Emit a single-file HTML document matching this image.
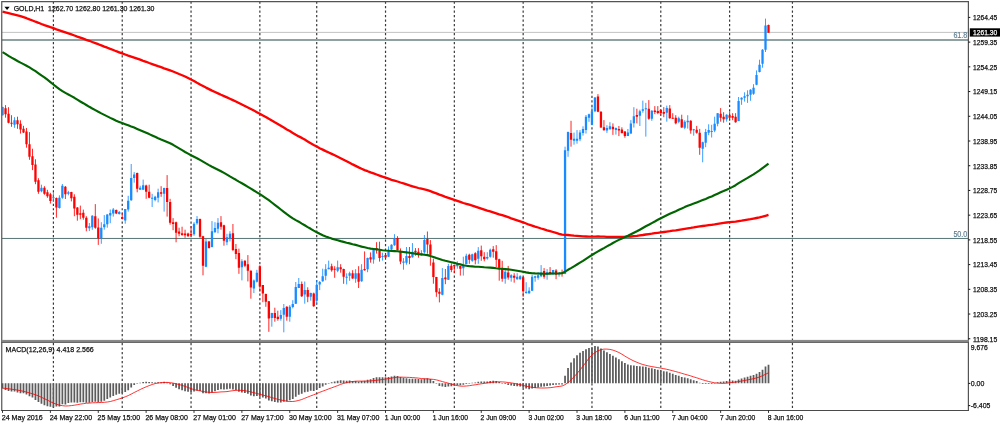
<!DOCTYPE html>
<html lang="en"><head><meta charset="utf-8"><title>GOLD,H1</title>
<style>html,body{margin:0;padding:0;background:#fff;overflow:hidden}svg{display:block}</style>
</head><body>
<svg width="1000" height="426" viewBox="0 0 1000 426" font-family="Liberation Sans, sans-serif">
<rect width="1000" height="426" fill="#fff"/>
<line x1="53.41" y1="1.45" x2="53.41" y2="410" stroke="#000" stroke-opacity="0.78" stroke-width="1.2" stroke-dasharray="2.24 2.253"/>
<line x1="122.23" y1="1.45" x2="122.23" y2="410" stroke="#000" stroke-opacity="0.78" stroke-width="1.2" stroke-dasharray="2.24 2.253"/>
<line x1="191.05" y1="1.45" x2="191.05" y2="410" stroke="#000" stroke-opacity="0.78" stroke-width="1.2" stroke-dasharray="2.24 2.253"/>
<line x1="259.86" y1="1.45" x2="259.86" y2="410" stroke="#000" stroke-opacity="0.78" stroke-width="1.2" stroke-dasharray="2.24 2.253"/>
<line x1="316.71" y1="1.45" x2="316.71" y2="410" stroke="#000" stroke-opacity="0.78" stroke-width="1.2" stroke-dasharray="2.24 2.253"/>
<line x1="385.53" y1="1.45" x2="385.53" y2="410" stroke="#000" stroke-opacity="0.78" stroke-width="1.2" stroke-dasharray="2.24 2.253"/>
<line x1="454.34" y1="1.45" x2="454.34" y2="410" stroke="#000" stroke-opacity="0.78" stroke-width="1.2" stroke-dasharray="2.24 2.253"/>
<line x1="523.16" y1="1.45" x2="523.16" y2="410" stroke="#000" stroke-opacity="0.78" stroke-width="1.2" stroke-dasharray="2.24 2.253"/>
<line x1="591.97" y1="1.45" x2="591.97" y2="410" stroke="#000" stroke-opacity="0.78" stroke-width="1.2" stroke-dasharray="2.24 2.253"/>
<line x1="660.79" y1="1.45" x2="660.79" y2="410" stroke="#000" stroke-opacity="0.78" stroke-width="1.2" stroke-dasharray="2.24 2.253"/>
<line x1="729.61" y1="1.45" x2="729.61" y2="410" stroke="#000" stroke-opacity="0.78" stroke-width="1.2" stroke-dasharray="2.24 2.253"/>
<line x1="792.44" y1="1.45" x2="792.44" y2="410" stroke="#000" stroke-opacity="0.78" stroke-width="1.2" stroke-dasharray="2.24 2.253"/>
<line x1="2" y1="32.4" x2="968" y2="32.4" stroke="#b4b4b4" stroke-width=".8"/>
<rect x="2" y="39" width="966" height="2" fill="#8fa1a0"/>
<rect x="2" y="237.95" width="966" height="1" fill="#587676"/>
<clipPath id="cc"><rect x="2.3" y="2" width="966" height="338"/></clipPath><g clip-path="url(#cc)">
<path d="M5.54 105.1V117.7M8.53 107.2V123.3M11.53 115.2V126.8M17.51 116.7V128.8M20.50 120.3V133.6M23.49 125.8V133.1M26.49 128.0V147.7M29.48 132.1V159.8M32.47 148.7V170.1M35.46 159.3V184.2M38.45 178.2V193.8M44.44 186.2V194.8M47.43 189.8V197.8M50.42 192.8V203.6M56.41 197.5V217.7M65.38 186.0V199.0M71.37 191.8V201.4M74.36 194.3V216.2M77.35 207.1V220.7M80.34 205.6V219.2M83.33 209.6V219.7M86.33 216.2V231.3M95.30 204.1V228.8M98.29 218.4V244.9M116.25 209.5V214.1M122.23 212.6V219.1M137.19 172.6V192.3M146.17 184.7V198.8M149.16 184.7V198.3M161.13 186.2V196.8M167.11 175.1V216.6M170.10 198.8V224.7M173.09 218.1V230.2M176.09 221.6V242.3M179.08 227.7V236.3M182.07 226.7V235.8M185.06 229.7V237.8M188.05 232.7V236.8M191.05 226.2V235.8M200.02 218.6V237.8M203.01 235.8V275.3M209.00 240.8V248.6M220.97 216.1V229.7M223.96 224.7V245.7M232.93 224.0V251.1M235.93 244.0V259.2M238.92 248.6V273.8M244.90 260.2V267.2M247.89 255.1V281.4M250.89 270.3V298.7M259.86 265.2V291.6M262.85 285.1V302.2M265.85 293.6V306.8M268.84 301.0V331.8M274.82 307.7V321.7M277.81 310.7V320.7M286.79 306.2V320.7M301.75 281.5V297.0M307.73 287.3V302.2M313.72 292.6V306.8M331.67 263.7V271.7M334.66 266.2V277.8M340.65 264.2V272.7M343.64 268.7V283.8M352.61 270.2V278.8M358.60 266.2V288.0M364.58 251.4V270.7M370.57 252.4V262.7M376.55 242.2V253.6M379.54 241.7V261.6M385.53 253.6V258.1M397.49 236.2V250.5M400.49 248.4V264.2M409.46 247.0V264.2M415.45 248.1V255.7M418.44 248.1V257.7M427.41 231.5V253.7M430.41 240.1V265.7M433.40 258.7V283.7M436.39 276.9V296.8M439.38 288.2V302.4M445.37 269.0V284.2M451.35 263.3V272.2M454.34 264.8V273.0M460.33 265.8V275.6M469.30 253.7V263.8M475.29 252.2V264.3M481.27 245.6V260.8M484.26 252.2V261.3M493.24 246.1V257.7M496.23 245.1V267.2M499.22 258.7V280.7M502.21 260.8V281.7M508.20 265.9V279.7M514.18 273.2V282.7M523.16 276.7V296.9M544.10 268.1V278.7M550.09 267.1V273.9M556.07 269.1V279.2M562.05 269.6V276.7M571.03 120.8V146.7M597.96 94.1V112.2M600.95 111.2V127.9M603.94 120.1V130.6M612.92 123.4V134.9M618.90 126.0V136.1M621.89 127.3V133.6M624.89 131.1V137.7M636.85 108.7V123.4M648.82 100.1V119.8M654.81 106.1V114.2M657.80 106.1V114.2M660.79 109.1V114.7M663.78 107.1V117.2M669.77 105.1V118.7M672.76 113.2V118.7M675.75 115.2V124.3M681.73 114.7V127.8M690.71 120.2V133.7M696.69 125.9V133.7M699.69 128.9V154.8M720.63 108.1V121.7M723.62 112.2V122.7M729.61 111.6V120.7M732.60 113.2V120.2M735.59 113.2V122.7M768.50 24.6V32.7" stroke="#ff0000" stroke-width=".85" fill="none"/>
<path d="M2.55 106.7V115.7M14.52 117.2V127.8M41.45 184.7V192.3M53.41 192.3V201.9M59.40 195.3V208.6M62.39 184.0V198.8M68.37 190.8V195.3M89.32 223.0V231.1M92.31 215.2V229.8M101.29 222.2V243.8M104.28 215.1V229.7M107.27 214.1V227.7M110.26 209.5V223.2M113.25 208.0V216.6M119.24 211.0V214.6M125.22 209.0V223.7M128.21 195.8V211.6M131.21 164.0V200.8M134.20 172.1V182.7M140.18 185.7V189.7M143.17 179.6V189.7M152.15 193.8V207.0M155.14 195.8V201.3M158.13 188.7V202.4M164.12 187.7V211.6M194.04 222.2V235.8M197.03 216.1V224.7M206.01 238.8V267.2M211.99 221.1V247.4M214.98 222.2V232.7M217.97 218.1V233.3M226.95 233.8V245.2M229.94 231.2V241.4M241.91 259.2V280.4M253.88 279.5V293.1M256.87 269.8V282.5M271.83 312.8V326.7M280.81 310.1V320.7M283.80 304.0V332.3M289.78 305.1V321.7M292.77 300.2V308.3M295.77 282.0V304.0M298.76 278.0V288.1M304.74 281.5V303.7M310.73 292.6V300.7M316.71 280.0V304.2M319.70 281.0V290.1M322.69 268.7V281.8M325.69 264.2V280.3M328.68 260.6V269.2M337.65 260.6V272.2M346.63 273.3V284.4M349.62 271.7V280.8M355.61 269.2V282.8M361.59 264.2V281.8M367.57 257.6V272.2M373.56 249.0V263.7M382.53 252.7V260.6M388.52 246.4V257.1M391.51 244.3V250.0M394.50 234.2V245.8M403.48 258.1V269.7M406.47 247.0V264.7M412.45 243.1V257.7M421.43 250.2V255.7M424.42 235.0V253.7M442.37 268.1V295.3M448.36 263.9V280.0M457.33 261.3V268.7M463.32 256.7V275.6M466.31 253.7V264.3M472.29 253.7V261.8M478.28 247.1V263.8M487.25 252.2V259.7M490.25 248.6V257.7M505.21 270.1V283.7M511.19 274.2V281.7M517.17 273.2V279.7M520.17 275.2V279.7M526.15 282.2V293.8M529.14 287.3V293.8M532.13 274.7V291.1M535.13 275.7V281.7M538.12 272.2V279.7M541.11 265.1V277.2M547.09 269.1V279.7M553.08 269.9V274.7M559.06 272.2V276.7M565.05 146.7V274.2M568.04 131.6V156.8M574.02 132.6V144.7M577.01 130.1V143.7M580.01 130.1V141.2M583.00 126.3V135.6M585.99 115.0V133.6M588.98 113.7V121.8M591.97 106.2V125.3M594.97 97.1V112.2M606.93 125.2V132.9M609.93 122.2V129.6M615.91 127.5V134.6M627.88 129.0V136.1M630.87 120.1V133.9M633.86 107.2V127.5M639.85 109.7V126.0M642.84 100.6V112.7M645.83 102.9V136.6M651.81 110.2V120.8M666.77 105.6V121.7M678.74 116.7V123.3M684.73 120.2V129.2M687.72 115.2V128.6M693.70 128.9V135.7M702.68 141.6V162.3M705.67 128.9V147.2M708.66 124.3V135.2M711.65 124.8V137.5M714.65 116.7V132.2M717.64 113.0V126.3M726.61 114.2V121.7M738.58 97.0V121.2M741.57 97.3V104.8M744.57 92.3V101.6M747.56 90.3V102.9M750.55 89.2V100.8M753.54 84.2V94.8M756.53 70.4V85.2M759.53 59.7V72.4M762.52 49.1V67.7M765.51 18.6V52.0" stroke="#178bff" stroke-width=".85" fill="none"/>
<path d="M5.54 108.2V114.2M8.53 113.7V122.8M11.53 122.8V123.8M17.51 120.3V124.3M20.50 123.8V129.5M23.49 128.8V132.6M26.49 131.6V144.2M29.48 144.2V156.8M32.47 156.3V165.0M35.46 164.4V181.7M38.45 180.2V191.8M44.44 187.7V193.8M47.43 192.3V196.3M50.42 194.3V201.0M56.41 198.0V207.6M65.38 186.7V194.3M71.37 192.1V198.3M74.36 196.8V208.6M77.35 207.6V214.7M80.34 213.2V214.7M83.33 212.7V217.7M86.33 217.7V227.8M95.30 216.2V227.8M98.29 227.5V238.3M116.25 210.0V213.6M122.23 216.9V218.9M137.19 173.1V188.7M146.17 185.4V191.8M149.16 191.8V197.8M161.13 192.3V193.8M167.11 188.0V201.9M170.10 201.9V222.7M173.09 222.2V224.0M176.09 222.2V232.7M179.08 231.4V233.8M182.07 233.3V235.1M185.06 233.5V235.3M188.05 233.6V236.3M191.05 233.8V235.3M200.02 219.1V236.8M203.01 236.3V265.7M209.00 241.5V248.1M220.97 222.2V226.7M223.96 225.2V240.8M232.93 233.3V250.1M235.93 249.1V254.1M238.92 253.1V267.7M244.90 260.7V265.7M247.89 264.2V270.8M250.89 270.8V287.6M259.86 266.2V286.6M262.85 285.1V293.6M265.85 293.9V301.7M268.84 301.2V318.6M274.82 313.0V318.0M277.81 316.7V319.0M286.79 306.7V316.7M301.75 284.1V296.2M307.73 289.9V296.7M313.72 293.6V306.3M331.67 266.2V270.2M334.66 268.7V269.7M340.65 267.2V269.2M343.64 269.0V276.8M352.61 273.3V278.5M358.60 273.3V281.8M364.58 269.0V270.2M370.57 257.3V259.6M376.55 248.0V250.0M379.54 250.8V258.1M385.53 255.1V257.6M397.49 238.0V250.0M400.49 251.0V261.6M409.46 256.1V258.1M415.45 250.7V252.2M418.44 251.7V253.7M427.41 239.1V244.6M430.41 244.6V254.7M433.40 262.6V277.1M436.39 277.1V292.3M439.38 291.8V293.8M445.37 277.6V279.2M451.35 265.7V270.0M454.34 265.1V266.4M460.33 266.1V268.7M469.30 254.7V259.7M475.29 253.2V260.3M481.27 250.2V256.2M484.26 256.7V259.2M493.24 249.2V251.7M496.23 251.2V259.7M499.22 259.2V267.7M502.21 268.4V278.7M508.20 272.5V277.6M514.18 275.7V277.7M523.16 277.2V291.3M544.10 271.1V276.7M550.09 272.0V273.7M556.07 270.6V274.7M562.05 272.7V273.7M571.03 132.9V139.7M597.96 96.6V111.7M600.95 111.7V127.5M603.94 127.3V130.2M612.92 126.7V129.2M618.90 129.1V130.6M621.89 129.6V133.1M624.89 131.6V136.1M636.85 115.0V116.8M648.82 108.7V118.8M654.81 110.6V112.0M657.80 111.1V113.0M660.79 110.1V113.2M663.78 112.0V113.7M669.77 108.6V118.2M672.76 117.7V118.7M675.75 117.7V123.3M681.73 119.2V127.6M690.71 120.7V130.6M696.69 129.8V132.8M699.69 132.7V147.7M720.63 113.7V117.7M723.62 116.7V119.2M729.61 115.2V117.7M732.60 116.0V117.7M735.59 116.7V122.2M768.50 25.1V32.7" stroke="#ff0000" stroke-width="2.3" fill="none"/>
<path d="M2.55 107.0V115.2M14.52 120.3V124.8M41.45 187.7V191.3M53.41 197.3V198.3M59.40 197.8V207.9M62.39 185.7V197.8M68.37 192.3V193.8M89.32 226.3V228.3M92.31 215.7V227.3M101.29 227.7V238.3M104.28 224.2V227.2M107.27 214.6V224.2M110.26 213.1V215.6M113.25 209.5V213.6M119.24 211.9V213.9M125.22 209.0V220.6M128.21 200.8V209.5M131.21 178.1V200.3M134.20 174.6V178.1M140.18 187.7V189.7M143.17 185.2V189.7M152.15 197.8V198.8M155.14 196.8V200.1M158.13 192.3V197.8M164.12 188.0V193.8M194.04 223.7V234.3M197.03 219.1V223.2M206.01 241.5V266.7M211.99 231.2V247.0M214.98 228.0V232.2M217.97 222.7V228.7M226.95 237.3V242.3M229.94 233.8V238.3M241.91 261.2V267.2M253.88 280.5V288.6M256.87 272.8V281.7M271.83 313.0V318.0M280.81 315.1V318.8M283.80 308.0V314.7M289.78 306.7V316.7M292.77 304.0V307.1M295.77 287.1V303.7M298.76 284.1V287.9M304.74 290.1V294.6M310.73 293.1V296.7M316.71 285.1V300.7M319.70 282.0V284.6M322.69 276.3V281.3M325.69 269.2V275.8M328.68 267.7V269.2M337.65 267.2V270.7M346.63 276.8V277.8M349.62 273.3V275.8M355.61 273.3V278.8M361.59 269.7V281.3M367.57 258.1V269.2M373.56 249.8V259.6M382.53 256.0V257.0M388.52 251.4V256.7M391.51 244.8V249.5M394.50 239.0V245.3M403.48 261.6V262.7M406.47 256.1V262.7M412.45 251.7V257.2M421.43 253.2V255.2M424.42 240.1V252.2M442.37 278.1V294.8M448.36 266.1V279.7M457.33 263.8V266.3M463.32 265.3V268.2M466.31 255.7V264.3M472.29 254.2V260.8M478.28 250.7V258.7M487.25 257.0V258.4M490.25 249.7V256.7M505.21 271.7V278.7M511.19 275.2V277.7M517.17 276.7V279.2M520.17 276.2V279.2M526.15 291.8V293.1M529.14 290.8V293.3M532.13 276.7V290.8M535.13 276.2V277.7M538.12 275.2V277.7M541.11 272.7V276.2M547.09 272.2V274.7M553.08 270.1V274.2M559.06 273.2V274.2M565.05 150.3V273.7M568.04 132.1V150.8M574.02 138.7V140.7M577.01 138.7V140.7M580.01 132.6V139.2M583.00 129.1V133.1M585.99 116.8V130.0M588.98 114.2V117.8M591.97 111.2V124.8M594.97 97.6V111.2M606.93 128.1V130.6M609.93 126.2V129.2M615.91 128.1V130.1M627.88 132.6V135.9M630.87 123.5V133.6M633.86 116.3V123.2M639.85 111.2V115.7M642.84 109.2V110.7M645.83 108.2V109.2M651.81 110.7V118.8M666.77 108.1V112.7M678.74 118.2V121.7M684.73 121.7V127.8M687.72 120.7V122.2M693.70 129.3V130.3M702.68 142.2V148.7M705.67 132.0V142.7M708.66 129.9V132.8M711.65 131.0V132.0M714.65 123.8V130.6M717.64 113.2V123.8M726.61 114.7V119.2M738.58 100.9V121.0M741.57 97.8V99.4M744.57 96.3V97.8M747.56 94.8V96.3M750.55 89.7V94.8M753.54 87.7V93.8M756.53 74.9V84.7M759.53 64.7V71.9M762.52 49.7V63.8M765.51 25.6V49.7" stroke="#178bff" stroke-width="2.3" fill="none"/>
</g>
<path d="M2.5 11.6 L5.5 12.4 L8.5 13.1 L11.5 13.9 L14.5 14.6 L17.5 15.4 L20.5 16.2 L23.5 17.2 L26.5 18.2 L29.5 19.4 L32.5 20.5 L35.5 21.7 L38.5 22.8 L41.4 24.0 L44.4 25.1 L47.4 26.1 L50.4 27.2 L53.4 28.2 L56.4 29.3 L59.4 30.3 L62.4 31.3 L65.4 32.3 L68.4 33.4 L71.4 34.4 L74.4 35.5 L77.3 36.6 L80.3 37.6 L83.3 38.7 L86.3 39.8 L89.3 40.8 L92.3 42.0 L95.3 43.1 L98.3 44.2 L101.3 45.4 L104.3 46.6 L107.3 47.7 L110.3 48.9 L113.3 50.0 L116.2 51.2 L119.2 52.3 L122.2 53.4 L125.2 54.5 L128.2 55.6 L131.2 56.6 L134.2 57.6 L137.2 58.6 L140.2 59.7 L143.2 60.8 L146.2 61.8 L149.2 63.0 L152.2 64.1 L155.1 65.1 L158.1 66.2 L161.1 67.2 L164.1 68.3 L167.1 69.3 L170.1 70.4 L173.1 71.5 L176.1 72.7 L179.1 74.0 L182.1 75.2 L185.1 76.5 L188.1 78.0 L191.0 79.5 L194.0 81.1 L197.0 82.8 L200.0 84.4 L203.0 86.0 L206.0 87.6 L209.0 89.1 L212.0 90.6 L215.0 92.0 L218.0 93.4 L221.0 94.8 L224.0 96.1 L227.0 97.4 L229.9 98.7 L232.9 100.1 L235.9 101.5 L238.9 103.0 L241.9 104.5 L244.9 106.0 L247.9 107.5 L250.9 109.0 L253.9 110.6 L256.9 112.2 L259.9 113.8 L262.9 115.4 L265.8 117.1 L268.8 118.8 L271.8 120.5 L274.8 122.3 L277.8 124.0 L280.8 125.8 L283.8 127.6 L286.8 129.4 L289.8 131.1 L292.8 132.9 L295.8 134.7 L298.8 136.4 L301.8 137.9 L304.7 139.6 L307.7 141.4 L310.7 143.2 L313.7 145.0 L316.7 146.6 L319.7 148.2 L322.7 149.6 L325.7 151.1 L328.7 152.5 L331.7 153.9 L334.7 155.3 L337.7 156.8 L340.6 158.2 L343.6 159.7 L346.6 161.2 L349.6 162.8 L352.6 164.4 L355.6 165.9 L358.6 167.4 L361.6 168.8 L364.6 170.1 L367.6 171.2 L370.6 172.4 L373.6 173.4 L376.6 174.5 L379.5 175.6 L382.5 176.7 L385.5 177.7 L388.5 178.7 L391.5 179.8 L394.5 180.6 L397.5 181.5 L400.5 182.5 L403.5 183.4 L406.5 184.4 L409.5 185.4 L412.5 186.3 L415.4 187.2 L418.4 188.0 L421.4 188.7 L424.4 189.4 L427.4 190.2 L430.4 191.2 L433.4 192.3 L436.4 193.4 L439.4 194.6 L442.4 195.7 L445.4 196.8 L448.4 197.8 L451.4 198.9 L454.3 199.9 L457.3 200.9 L460.3 201.9 L463.3 203.0 L466.3 203.8 L469.3 204.7 L472.3 205.6 L475.3 206.6 L478.3 207.6 L481.3 208.6 L484.3 209.6 L487.3 210.6 L490.2 211.4 L493.2 212.3 L496.2 213.3 L499.2 214.3 L502.2 215.2 L505.2 216.2 L508.2 217.2 L511.2 218.3 L514.2 219.3 L517.2 220.3 L520.2 221.3 L523.2 222.3 L526.1 223.5 L529.1 224.7 L532.1 225.6 L535.1 226.6 L538.1 227.5 L541.1 228.5 L544.1 229.4 L547.1 230.3 L550.1 231.1 L553.1 232.0 L556.1 232.9 L559.1 233.8 L562.1 234.6 L565.0 234.9 L568.0 235.0 L571.0 235.3 L574.0 235.6 L577.0 235.8 L580.0 236.1 L583.0 236.4 L586.0 236.5 L589.0 236.6 L592.0 236.7 L595.0 236.6 L598.0 236.5 L600.9 236.6 L603.9 236.7 L606.9 236.8 L609.9 236.8 L612.9 236.8 L615.9 236.8 L618.9 236.8 L621.9 236.8 L624.9 236.8 L627.9 236.7 L630.9 236.5 L633.9 236.1 L636.9 235.8 L639.8 235.4 L642.8 235.0 L645.8 234.5 L648.8 234.1 L651.8 233.7 L654.8 233.2 L657.8 232.8 L660.8 232.4 L663.8 232.0 L666.8 231.6 L669.8 231.2 L672.8 230.7 L675.8 230.3 L678.7 229.8 L681.7 229.3 L684.7 228.8 L687.7 228.3 L690.7 227.9 L693.7 227.4 L696.7 226.8 L699.7 226.4 L702.7 226.0 L705.7 225.6 L708.7 225.2 L711.7 224.8 L714.6 224.4 L717.6 223.9 L720.6 223.4 L723.6 222.9 L726.6 222.5 L729.6 222.2 L732.6 221.9 L735.6 221.6 L738.6 221.1 L741.6 220.7 L744.6 220.2 L747.6 219.7 L750.5 219.2 L753.5 218.6 L756.5 218.0 L759.5 217.4 L762.5 216.7 L765.5 215.8 L768.5 214.9" stroke="#ff0000" stroke-width="2.3" fill="none" stroke-linejoin="round" stroke-linecap="butt" />
<path d="M2.5 52.1 L5.5 53.9 L8.5 55.8 L11.5 57.6 L14.5 59.3 L17.5 61.0 L20.5 62.6 L23.5 64.1 L26.5 65.7 L29.5 67.4 L32.5 69.3 L35.5 71.2 L38.5 73.3 L41.4 75.4 L44.4 77.4 L47.4 79.7 L50.4 82.1 L53.4 84.5 L56.4 86.9 L59.4 89.1 L62.4 91.1 L65.4 92.9 L68.4 94.5 L71.4 96.1 L74.4 97.8 L77.3 99.6 L80.3 101.5 L83.3 103.2 L86.3 105.0 L89.3 106.8 L92.3 108.5 L95.3 110.1 L98.3 111.8 L101.3 113.4 L104.3 114.9 L107.3 116.4 L110.3 117.9 L113.3 119.3 L116.2 120.7 L119.2 121.9 L122.2 123.1 L125.2 124.2 L128.2 125.3 L131.2 126.5 L134.2 127.6 L137.2 128.9 L140.2 130.2 L143.2 131.5 L146.2 132.8 L149.2 134.1 L152.2 135.5 L155.1 136.8 L158.1 138.2 L161.1 139.5 L164.1 140.7 L167.1 142.0 L170.1 143.3 L173.1 144.8 L176.1 146.6 L179.1 148.4 L182.1 150.2 L185.1 152.0 L188.1 153.6 L191.0 155.2 L194.0 156.7 L197.0 158.2 L200.0 159.9 L203.0 161.6 L206.0 163.4 L209.0 165.1 L212.0 166.7 L215.0 168.2 L218.0 169.7 L221.0 171.3 L224.0 172.9 L227.0 174.6 L229.9 176.4 L232.9 178.1 L235.9 179.8 L238.9 181.6 L241.9 183.3 L244.9 185.0 L247.9 186.8 L250.9 188.6 L253.9 190.5 L256.9 192.3 L259.9 194.1 L262.9 196.1 L265.8 198.1 L268.8 200.2 L271.8 202.5 L274.8 204.8 L277.8 207.1 L280.8 209.5 L283.8 211.9 L286.8 214.2 L289.8 216.3 L292.8 218.4 L295.8 220.1 L298.8 221.7 L301.8 223.6 L304.7 225.3 L307.7 227.1 L310.7 228.8 L313.7 230.6 L316.7 232.2 L319.7 233.8 L322.7 235.2 L325.7 236.5 L328.7 237.6 L331.7 238.6 L334.7 239.5 L337.7 240.2 L340.6 241.1 L343.6 241.9 L346.6 242.7 L349.6 243.4 L352.6 244.2 L355.6 244.9 L358.6 245.7 L361.6 246.6 L364.6 247.3 L367.6 248.0 L370.6 248.6 L373.6 249.0 L376.6 249.4 L379.5 249.8 L382.5 250.2 L385.5 250.5 L388.5 250.7 L391.5 251.0 L394.5 251.1 L397.5 251.2 L400.5 251.6 L403.5 252.0 L406.5 252.4 L409.5 252.8 L412.5 253.2 L415.4 253.6 L418.4 254.1 L421.4 254.4 L424.4 254.7 L427.4 255.1 L430.4 255.9 L433.4 256.9 L436.4 258.0 L439.4 259.0 L442.4 260.0 L445.4 260.8 L448.4 261.5 L451.4 262.2 L454.3 262.9 L457.3 263.7 L460.3 264.4 L463.3 265.2 L466.3 265.7 L469.3 266.1 L472.3 266.4 L475.3 266.7 L478.3 266.8 L481.3 267.0 L484.3 267.3 L487.3 267.5 L490.2 267.6 L493.2 267.9 L496.2 268.3 L499.2 268.6 L502.2 268.8 L505.2 269.1 L508.2 269.4 L511.2 269.8 L514.2 270.3 L517.2 270.8 L520.2 271.3 L523.2 271.8 L526.1 272.4 L529.1 272.9 L532.1 273.2 L535.1 273.4 L538.1 273.5 L541.1 273.6 L544.1 273.7 L547.1 273.7 L550.1 273.6 L553.1 273.5 L556.1 273.5 L559.1 273.4 L562.1 273.2 L565.0 271.7 L568.0 269.8 L571.0 268.1 L574.0 266.3 L577.0 264.5 L580.0 262.7 L583.0 260.9 L586.0 258.9 L589.0 256.9 L592.0 255.0 L595.0 253.1 L598.0 251.4 L600.9 249.7 L603.9 248.1 L606.9 246.4 L609.9 244.8 L612.9 243.0 L615.9 241.4 L618.9 239.9 L621.9 238.5 L624.9 237.1 L627.9 235.8 L630.9 234.3 L633.9 232.8 L636.9 231.3 L639.8 229.7 L642.8 228.0 L645.8 226.3 L648.8 224.8 L651.8 223.1 L654.8 221.5 L657.8 219.8 L660.8 218.2 L663.8 216.7 L666.8 215.2 L669.8 213.8 L672.8 212.5 L675.8 211.2 L678.7 209.8 L681.7 208.5 L684.7 207.1 L687.7 205.8 L690.7 204.7 L693.7 203.6 L696.7 202.4 L699.7 201.3 L702.7 200.1 L705.7 198.9 L708.7 197.6 L711.7 196.4 L714.6 195.1 L717.6 193.7 L720.6 192.3 L723.6 191.1 L726.6 189.8 L729.6 188.4 L732.6 186.9 L735.6 185.2 L738.6 183.2 L741.6 181.4 L744.6 179.6 L747.6 177.9 L750.5 176.1 L753.5 174.3 L756.5 172.4 L759.5 170.4 L762.5 168.2 L765.5 165.9 L768.5 163.6" stroke="#006400" stroke-width="2.15" fill="none" stroke-linejoin="round" stroke-linecap="butt" />
<path d="M2.55 383.25V388.50M5.54 383.25V390.00M8.53 383.25V391.00M11.53 383.25V391.50M14.52 383.25V391.50M17.51 383.25V392.50M20.50 383.25V393.20M23.49 383.25V393.20M26.49 383.25V394.50M29.48 383.25V396.20M32.47 383.25V397.50M35.46 383.25V400.00M38.45 383.25V402.00M41.45 383.25V403.80M44.44 383.25V405.20M47.43 383.25V406.20M50.42 383.25V406.80M53.41 383.25V407.50M56.41 383.25V406.50M59.40 383.25V406.50M62.39 383.25V404.20M65.38 383.25V404.50M68.37 383.25V403.00M71.37 383.25V402.50M74.36 383.25V402.50M77.35 383.25V402.78M80.34 383.25V402.14M83.33 383.25V402.18M86.33 383.25V402.71M89.32 383.25V402.76M92.31 383.25V401.97M95.30 383.25V401.83M98.29 383.25V402.25M101.29 383.25V401.63M104.28 383.25V400.69M107.27 383.25V399.09M110.26 383.25V397.56M113.25 383.25V395.95M116.25 383.25V394.83M119.24 383.25V393.70M122.23 383.25V393.17M125.22 383.25V391.97M128.21 383.25V390.37M131.21 383.25V387.47M134.20 383.25V384.91M137.19 383.25V383.85M140.18 383.25V382.75M143.17 383.25V382.08M146.17 383.25V381.86M149.16 383.25V382.11M152.15 383.25V382.33M155.14 383.25V382.44M158.13 383.25V382.22M161.13 383.25V382.17M164.12 383.25V381.74M167.11 383.25V382.38M170.10 383.25V384.32M173.09 383.25V385.91M176.09 383.25V387.73M179.08 383.25V389.18M182.07 383.25V390.33M185.06 383.25V391.17M188.05 383.25V391.81M191.05 383.25V392.14M194.04 383.25V391.50M197.03 383.25V390.59M200.02 383.25V391.01M203.01 383.25V393.24M206.01 383.25V393.20M209.00 383.25V393.52M211.99 383.25V392.49M214.98 383.25V391.35M217.97 383.25V390.01M220.97 383.25V389.15M223.96 383.25V389.38M226.95 383.25V389.25M229.94 383.25V388.84M232.93 383.25V389.58M235.93 383.25V390.36M238.92 383.25V391.82M241.91 383.25V392.42M244.90 383.25V393.10M247.89 383.25V393.86M250.89 383.25V395.50M253.88 383.25V396.15M256.87 383.25V395.99M259.86 383.25V396.66M262.85 383.25V397.52M265.85 383.25V398.58M268.84 383.25V400.40M271.83 383.25V401.25M274.82 383.25V402.05M277.81 383.25V402.53M280.81 383.25V402.42M283.80 383.25V401.63M286.79 383.25V401.40M289.78 383.25V400.32M292.77 383.25V399.10M295.77 383.25V396.80M298.76 383.25V394.64M301.75 383.25V393.64M304.74 383.25V392.33M307.73 383.25V391.65M310.73 383.25V390.77M313.72 383.25V390.91M316.71 383.25V389.47M319.70 383.25V388.06M322.69 383.25V386.51M325.69 383.25V384.77M328.68 383.25V383.75M331.67 383.25V382.29M334.66 383.25V381.49M337.65 383.25V380.71M340.65 383.25V380.27M343.64 383.25V380.48M346.63 383.25V380.67M349.62 383.25V380.61M352.61 383.25V380.96M355.61 383.25V380.89M358.60 383.25V381.45M361.59 383.25V381.08M364.58 383.25V380.85M367.57 383.25V379.87M370.57 383.25V379.24M373.56 383.25V378.11M376.55 383.25V377.31M379.54 383.25V377.30M382.53 383.25V377.22M385.53 383.25V377.33M388.52 383.25V377.06M391.51 383.25V376.47M394.50 383.25V375.68M397.49 383.25V375.91M400.49 383.25V376.97M403.48 383.25V377.87M406.47 383.25V378.26M409.46 383.25V378.75M412.45 383.25V378.76M415.45 383.25V378.84M418.44 383.25V379.07M421.43 383.25V379.25M424.42 383.25V378.55M427.41 383.25V378.35M430.41 383.25V378.95M433.40 383.25V381.01M436.39 383.25V383.75M439.38 383.25V385.89M442.37 383.25V386.50M445.37 383.25V387.02M448.36 383.25V386.49M451.35 383.25V386.30M454.34 383.25V385.87M457.33 383.25V385.32M460.33 383.25V385.21M463.32 383.25V384.86M466.31 383.25V383.92M469.30 383.25V383.75M472.29 383.25V382.69M475.29 383.25V382.52M478.28 383.25V381.74M481.27 383.25V381.53M484.26 383.25V381.58M487.25 383.25V381.50M490.25 383.25V380.95M493.24 383.25V380.68M496.23 383.25V381.05M499.22 383.25V381.91M502.21 383.25V383.75M505.21 383.25V384.01M508.20 383.25V384.92M511.19 383.25V385.45M514.18 383.25V386.00M517.17 383.25V386.34M520.17 383.25V386.54M523.16 383.25V387.69M526.15 383.25V388.58M529.14 383.25V389.14M532.13 383.25V388.55M535.13 383.25V387.99M538.12 383.25V387.43M541.11 383.25V386.77M544.10 383.25V386.49M547.09 383.25V385.93M550.09 383.25V385.55M553.08 383.25V384.99M556.07 383.25V384.84M559.06 383.25V384.61M562.05 383.25V384.44M565.05 383.25V375.82M568.04 383.25V367.90M571.03 383.25V362.40M574.02 383.25V358.25M577.01 383.25V355.29M580.01 383.25V352.87M583.00 383.25V351.08M585.99 383.25V349.19M588.98 383.25V347.93M591.97 383.25V347.13M594.97 383.25V345.99M597.96 383.25V346.49M600.95 383.25V348.38M603.94 383.25V350.44M606.93 383.25V352.29M609.93 383.25V353.96M612.92 383.25V355.81M615.91 383.25V357.50M618.90 383.25V359.28M621.89 383.25V361.13M624.89 383.25V363.03M627.88 383.25V364.51M630.87 383.25V365.26M633.86 383.25V365.56M636.85 383.25V366.02M639.85 383.25V366.20M642.84 383.25V366.40M645.83 383.25V366.68M648.82 383.25V367.81M651.81 383.25V368.32M654.81 383.25V368.98M657.80 383.25V369.73M660.79 383.25V370.48M663.78 383.25V371.25M666.77 383.25V371.60M669.77 383.25V372.71M672.76 383.25V373.73M675.75 383.25V374.95M678.74 383.25V375.65M681.73 383.25V376.94M684.73 383.25V377.61M687.72 383.25V378.13M690.71 383.25V379.28M693.70 383.25V380.13M696.69 383.25V381.08M699.69 383.25V382.75M702.68 383.25V383.90M705.67 383.25V383.99M708.66 383.25V383.92M711.65 383.25V383.93M714.65 383.25V383.75M717.64 383.25V382.31M720.63 383.25V381.76M723.62 383.25V381.44M726.61 383.25V380.90M729.61 383.25V380.72M732.60 383.25V380.60M735.59 383.25V380.85M738.58 383.25V379.60M741.57 383.25V378.46M744.57 383.25V377.51M747.56 383.25V376.74M750.55 383.25V375.85M753.54 383.25V375.10M756.53 383.25V373.73M759.53 383.25V372.06M762.52 383.25V369.86M765.51 383.25V366.62M768.50 383.25V364.77" stroke="#5c5c5c" stroke-width="1.75" fill="none"/>
<path d="M2.5 388.2 L5.5 388.4 L8.5 388.8 L11.5 389.2 L14.5 389.6 L17.5 390.1 L20.5 390.7 L23.5 391.3 L26.5 392.1 L29.5 392.9 L32.5 393.8 L35.5 394.8 L38.5 395.9 L41.4 397.3 L44.4 398.7 L47.4 400.1 L50.4 401.7 L53.4 403.1 L56.4 404.2 L59.4 405.2 L62.4 405.7 L65.4 406.0 L68.4 405.9 L71.4 405.6 L74.4 405.2 L77.3 404.7 L80.3 404.1 L83.3 403.7 L86.3 403.2 L89.3 403.1 L92.3 402.8 L95.3 402.7 L98.3 402.6 L101.3 402.5 L104.3 402.3 L107.3 402.0 L110.3 401.5 L113.3 400.7 L116.2 399.8 L119.2 398.9 L122.2 398.0 L125.2 396.8 L128.2 395.6 L131.2 394.1 L134.2 392.5 L137.2 391.0 L140.2 389.5 L143.2 388.1 L146.2 386.8 L149.2 385.6 L152.2 384.5 L155.1 383.6 L158.1 383.0 L161.1 382.7 L164.1 382.5 L167.1 382.4 L170.1 382.7 L173.1 383.1 L176.1 383.8 L179.1 384.5 L182.1 385.4 L185.1 386.4 L188.1 387.5 L191.0 388.6 L194.0 389.6 L197.0 390.3 L200.0 390.9 L203.0 391.5 L206.0 392.0 L209.0 392.3 L212.0 392.5 L215.0 392.4 L218.0 392.2 L221.0 391.9 L224.0 391.8 L227.0 391.6 L229.9 391.1 L232.9 390.7 L235.9 390.3 L238.9 390.3 L241.9 390.4 L244.9 390.7 L247.9 391.3 L250.9 391.9 L253.9 392.7 L256.9 393.5 L259.9 394.3 L262.9 395.1 L265.8 395.8 L268.8 396.7 L271.8 397.6 L274.8 398.5 L277.8 399.3 L280.8 400.0 L283.8 400.6 L286.8 401.2 L289.8 401.5 L292.8 401.5 L295.8 401.1 L298.8 400.4 L301.8 399.5 L304.7 398.3 L307.7 397.1 L310.7 395.9 L313.7 394.8 L316.7 393.6 L319.7 392.3 L322.7 391.2 L325.7 390.1 L328.7 388.9 L331.7 387.8 L334.7 386.7 L337.7 385.6 L340.6 384.4 L343.6 383.4 L346.6 382.6 L349.6 381.9 L352.6 381.5 L355.6 381.2 L358.6 381.1 L361.6 381.1 L364.6 381.1 L367.6 381.1 L370.6 380.9 L373.6 380.6 L376.6 380.3 L379.5 379.9 L382.5 379.5 L385.5 379.0 L388.5 378.6 L391.5 378.1 L394.5 377.6 L397.5 377.2 L400.5 377.1 L403.5 377.2 L406.5 377.3 L409.5 377.4 L412.5 377.6 L415.4 377.8 L418.4 378.1 L421.4 378.5 L424.4 378.8 L427.4 378.9 L430.4 379.1 L433.4 379.4 L436.4 379.9 L439.4 380.7 L442.4 381.6 L445.4 382.4 L448.4 383.2 L451.4 384.1 L454.3 384.9 L457.3 385.6 L460.3 386.1 L463.3 386.2 L466.3 386.0 L469.3 385.7 L472.3 385.2 L475.3 384.8 L478.3 384.3 L481.3 383.8 L484.3 383.4 L487.3 382.9 L490.2 382.5 L493.2 382.1 L496.2 381.9 L499.2 381.8 L502.2 381.9 L505.2 382.1 L508.2 382.5 L511.2 382.9 L514.2 383.4 L517.2 384.0 L520.2 384.7 L523.2 385.4 L526.1 386.2 L529.1 386.8 L532.1 387.3 L535.1 387.7 L538.1 387.9 L541.1 388.0 L544.1 388.0 L547.1 387.9 L550.1 387.7 L553.1 387.3 L556.1 386.8 L559.1 386.4 L562.1 386.0 L565.0 384.7 L568.0 382.6 L571.0 379.9 L574.0 376.8 L577.0 373.5 L580.0 369.9 L583.0 366.2 L586.0 362.2 L589.0 358.2 L592.0 355.0 L595.0 352.5 L598.0 350.8 L600.9 349.7 L603.9 349.1 L606.9 349.1 L609.9 349.4 L612.9 350.1 L615.9 351.2 L618.9 352.5 L621.9 354.2 L624.9 356.1 L627.9 357.9 L630.9 359.5 L633.9 361.0 L636.9 362.3 L639.8 363.5 L642.8 364.5 L645.8 365.3 L648.8 366.0 L651.8 366.6 L654.8 367.1 L657.8 367.6 L660.8 368.1 L663.8 368.7 L666.8 369.3 L669.8 370.0 L672.8 370.8 L675.8 371.6 L678.7 372.4 L681.7 373.3 L684.7 374.2 L687.7 375.0 L690.7 375.9 L693.7 376.9 L696.7 377.8 L699.7 378.8 L702.7 379.8 L705.7 380.7 L708.7 381.5 L711.7 382.2 L714.6 382.8 L717.6 383.1 L720.6 383.3 L723.6 383.4 L726.6 383.1 L729.6 382.8 L732.6 382.4 L735.6 382.1 L738.6 381.6 L741.6 381.0 L744.6 380.5 L747.6 379.9 L750.5 379.3 L753.5 378.7 L756.5 377.9 L759.5 377.0 L762.5 375.7 L765.5 374.3 L768.5 372.8" stroke="#ff0000" stroke-width="0.8" fill="none" stroke-linejoin="round" stroke-linecap="butt" />
<path d="M1.2 1.7H968.9M1.75 1.2V410.6M968.4 1V410.6" stroke="#545454" stroke-width="1.2" fill="none"/>
<path d="M1.2 410.5H969" stroke="#4a4a4a" stroke-width="1" fill="none"/>
<rect x="1.6" y="339.9" width="967.2" height="2.1" fill="#8a8a8a"/>
<rect x="1.6" y="341.9" width="967.2" height="1" fill="#585858"/>
<line x1="968.4" y1="17.40" x2="970.3" y2="17.40" stroke="#111" stroke-width="1"/>
<text x="973" y="20.25" font-size="8.1" stroke="#000" stroke-width=".25" fill="#1a1a1a" textLength="24.2" lengthAdjust="spacingAndGlyphs">1264.45</text>
<line x1="968.4" y1="42.12" x2="970.3" y2="42.12" stroke="#111" stroke-width="1"/>
<text x="973" y="44.97" font-size="8.1" stroke="#000" stroke-width=".25" fill="#1a1a1a" textLength="24.2" lengthAdjust="spacingAndGlyphs">1259.35</text>
<line x1="968.4" y1="66.84" x2="970.3" y2="66.84" stroke="#111" stroke-width="1"/>
<text x="973" y="69.69" font-size="8.1" stroke="#000" stroke-width=".25" fill="#1a1a1a" textLength="24.2" lengthAdjust="spacingAndGlyphs">1254.25</text>
<line x1="968.4" y1="91.56" x2="970.3" y2="91.56" stroke="#111" stroke-width="1"/>
<text x="973" y="94.41" font-size="8.1" stroke="#000" stroke-width=".25" fill="#1a1a1a" textLength="24.2" lengthAdjust="spacingAndGlyphs">1249.15</text>
<line x1="968.4" y1="116.28" x2="970.3" y2="116.28" stroke="#111" stroke-width="1"/>
<text x="973" y="119.13" font-size="8.1" stroke="#000" stroke-width=".25" fill="#1a1a1a" textLength="24.2" lengthAdjust="spacingAndGlyphs">1244.05</text>
<line x1="968.4" y1="141.00" x2="970.3" y2="141.00" stroke="#111" stroke-width="1"/>
<text x="973" y="143.85" font-size="8.1" stroke="#000" stroke-width=".25" fill="#1a1a1a" textLength="24.2" lengthAdjust="spacingAndGlyphs">1238.95</text>
<line x1="968.4" y1="165.72" x2="970.3" y2="165.72" stroke="#111" stroke-width="1"/>
<text x="973" y="168.57" font-size="8.1" stroke="#000" stroke-width=".25" fill="#1a1a1a" textLength="24.2" lengthAdjust="spacingAndGlyphs">1233.85</text>
<line x1="968.4" y1="190.44" x2="970.3" y2="190.44" stroke="#111" stroke-width="1"/>
<text x="973" y="193.29" font-size="8.1" stroke="#000" stroke-width=".25" fill="#1a1a1a" textLength="24.2" lengthAdjust="spacingAndGlyphs">1228.75</text>
<line x1="968.4" y1="215.16" x2="970.3" y2="215.16" stroke="#111" stroke-width="1"/>
<text x="973" y="218.01" font-size="8.1" stroke="#000" stroke-width=".25" fill="#1a1a1a" textLength="24.2" lengthAdjust="spacingAndGlyphs">1223.65</text>
<line x1="968.4" y1="239.88" x2="970.3" y2="239.88" stroke="#111" stroke-width="1"/>
<text x="973" y="242.73" font-size="8.1" stroke="#000" stroke-width=".25" fill="#1a1a1a" textLength="24.2" lengthAdjust="spacingAndGlyphs">1218.55</text>
<line x1="968.4" y1="264.60" x2="970.3" y2="264.60" stroke="#111" stroke-width="1"/>
<text x="973" y="267.45" font-size="8.1" stroke="#000" stroke-width=".25" fill="#1a1a1a" textLength="24.2" lengthAdjust="spacingAndGlyphs">1213.45</text>
<line x1="968.4" y1="289.32" x2="970.3" y2="289.32" stroke="#111" stroke-width="1"/>
<text x="973" y="292.17" font-size="8.1" stroke="#000" stroke-width=".25" fill="#1a1a1a" textLength="24.2" lengthAdjust="spacingAndGlyphs">1208.35</text>
<line x1="968.4" y1="314.04" x2="970.3" y2="314.04" stroke="#111" stroke-width="1"/>
<text x="973" y="316.89" font-size="8.1" stroke="#000" stroke-width=".25" fill="#1a1a1a" textLength="24.2" lengthAdjust="spacingAndGlyphs">1203.25</text>
<line x1="968.4" y1="338.76" x2="970.3" y2="338.76" stroke="#111" stroke-width="1"/>
<text x="973" y="341.61" font-size="8.1" stroke="#000" stroke-width=".25" fill="#1a1a1a" textLength="24.2" lengthAdjust="spacingAndGlyphs">1198.15</text>
<rect x="969.8" y="28.3" width="30.2" height="8.3" fill="#000"/>
<text x="973" y="34.9" font-size="8.1" stroke="#fff" stroke-width=".25" fill="#fff" textLength="24.2" lengthAdjust="spacingAndGlyphs">1261.30</text>
<text x="953.4" y="38.1" font-size="8.6" fill="#5a7a8e" stroke="#5a7a8e" stroke-width=".15" textLength="13.9" lengthAdjust="spacingAndGlyphs">61.8</text>
<text x="953.4" y="237.0" font-size="8.6" fill="#5a7a8e" stroke="#5a7a8e" stroke-width=".15" textLength="13.9" lengthAdjust="spacingAndGlyphs">50.0</text>
<text x="970.8" y="350.40" font-size="8.1" stroke="#000" stroke-width=".25" fill="#1a1a1a" textLength="17.0" lengthAdjust="spacingAndGlyphs">9.676</text>
<text x="970.8" y="386.40" font-size="8.1" stroke="#000" stroke-width=".25" fill="#1a1a1a" textLength="13.6" lengthAdjust="spacingAndGlyphs">0.00</text>
<text x="970.8" y="408.40" font-size="8.1" stroke="#000" stroke-width=".25" fill="#1a1a1a" textLength="19.6" lengthAdjust="spacingAndGlyphs">-6.405</text>
<line x1="968.4" y1="383.4" x2="970.3" y2="383.4" stroke="#111" stroke-width="1"/>
<line x1="968.4" y1="405.6" x2="970.3" y2="405.6" stroke="#111" stroke-width="1"/>
<line x1="2.50" y1="410" x2="2.50" y2="412.9" stroke="#333" stroke-width="1"/>
<text x="1.80" y="420" font-size="8.1" stroke="#000" stroke-width=".25" fill="#1a1a1a" textLength="40.8" lengthAdjust="spacingAndGlyphs">24 May 2016</text>
<line x1="50.38" y1="410" x2="50.38" y2="412.9" stroke="#333" stroke-width="1"/>
<text x="49.67" y="420" font-size="8.1" stroke="#000" stroke-width=".25" fill="#1a1a1a" textLength="42.5" lengthAdjust="spacingAndGlyphs">24 May 22:00</text>
<line x1="98.25" y1="410" x2="98.25" y2="412.9" stroke="#333" stroke-width="1"/>
<text x="97.55" y="420" font-size="8.1" stroke="#000" stroke-width=".25" fill="#1a1a1a" textLength="42.5" lengthAdjust="spacingAndGlyphs">25 May 15:00</text>
<line x1="146.12" y1="410" x2="146.12" y2="412.9" stroke="#333" stroke-width="1"/>
<text x="145.43" y="420" font-size="8.1" stroke="#000" stroke-width=".25" fill="#1a1a1a" textLength="42.5" lengthAdjust="spacingAndGlyphs">26 May 08:00</text>
<line x1="194.00" y1="410" x2="194.00" y2="412.9" stroke="#333" stroke-width="1"/>
<text x="193.30" y="420" font-size="8.1" stroke="#000" stroke-width=".25" fill="#1a1a1a" textLength="42.5" lengthAdjust="spacingAndGlyphs">27 May 01:00</text>
<line x1="241.88" y1="410" x2="241.88" y2="412.9" stroke="#333" stroke-width="1"/>
<text x="241.18" y="420" font-size="8.1" stroke="#000" stroke-width=".25" fill="#1a1a1a" textLength="42.5" lengthAdjust="spacingAndGlyphs">27 May 17:00</text>
<line x1="289.75" y1="410" x2="289.75" y2="412.9" stroke="#333" stroke-width="1"/>
<text x="289.05" y="420" font-size="8.1" stroke="#000" stroke-width=".25" fill="#1a1a1a" textLength="42.5" lengthAdjust="spacingAndGlyphs">30 May 10:00</text>
<line x1="337.62" y1="410" x2="337.62" y2="412.9" stroke="#333" stroke-width="1"/>
<text x="336.93" y="420" font-size="8.1" stroke="#000" stroke-width=".25" fill="#1a1a1a" textLength="42.5" lengthAdjust="spacingAndGlyphs">31 May 07:00</text>
<line x1="385.50" y1="410" x2="385.50" y2="412.9" stroke="#333" stroke-width="1"/>
<text x="384.80" y="420" font-size="8.1" stroke="#000" stroke-width=".25" fill="#1a1a1a" textLength="35.4" lengthAdjust="spacingAndGlyphs">1 Jun 00:00</text>
<line x1="433.38" y1="410" x2="433.38" y2="412.9" stroke="#333" stroke-width="1"/>
<text x="432.68" y="420" font-size="8.1" stroke="#000" stroke-width=".25" fill="#1a1a1a" textLength="35.4" lengthAdjust="spacingAndGlyphs">1 Jun 16:00</text>
<line x1="481.25" y1="410" x2="481.25" y2="412.9" stroke="#333" stroke-width="1"/>
<text x="480.55" y="420" font-size="8.1" stroke="#000" stroke-width=".25" fill="#1a1a1a" textLength="35.4" lengthAdjust="spacingAndGlyphs">2 Jun 09:00</text>
<line x1="529.12" y1="410" x2="529.12" y2="412.9" stroke="#333" stroke-width="1"/>
<text x="528.42" y="420" font-size="8.1" stroke="#000" stroke-width=".25" fill="#1a1a1a" textLength="35.4" lengthAdjust="spacingAndGlyphs">3 Jun 02:00</text>
<line x1="577.00" y1="410" x2="577.00" y2="412.9" stroke="#333" stroke-width="1"/>
<text x="576.30" y="420" font-size="8.1" stroke="#000" stroke-width=".25" fill="#1a1a1a" textLength="35.4" lengthAdjust="spacingAndGlyphs">3 Jun 18:00</text>
<line x1="624.88" y1="410" x2="624.88" y2="412.9" stroke="#333" stroke-width="1"/>
<text x="624.17" y="420" font-size="8.1" stroke="#000" stroke-width=".25" fill="#1a1a1a" textLength="35.4" lengthAdjust="spacingAndGlyphs">6 Jun 11:00</text>
<line x1="672.75" y1="410" x2="672.75" y2="412.9" stroke="#333" stroke-width="1"/>
<text x="672.05" y="420" font-size="8.1" stroke="#000" stroke-width=".25" fill="#1a1a1a" textLength="35.4" lengthAdjust="spacingAndGlyphs">7 Jun 04:00</text>
<line x1="720.62" y1="410" x2="720.62" y2="412.9" stroke="#333" stroke-width="1"/>
<text x="719.92" y="420" font-size="8.1" stroke="#000" stroke-width=".25" fill="#1a1a1a" textLength="35.4" lengthAdjust="spacingAndGlyphs">7 Jun 20:00</text>
<line x1="768.50" y1="410" x2="768.50" y2="412.9" stroke="#333" stroke-width="1"/>
<text x="767.80" y="420" font-size="8.1" stroke="#000" stroke-width=".25" fill="#1a1a1a" textLength="35.4" lengthAdjust="spacingAndGlyphs">8 Jun 16:00</text>
<path d="M4.4 6.7H9.7L7.05 9.9Z" fill="#000"/>
<text x="13.7" y="10.75" font-size="8.1" stroke="#000" stroke-width=".25" fill="#1a1a1a" textLength="140.8" lengthAdjust="spacingAndGlyphs" xml:space="preserve">GOLD,H1  1262.70 1262.80 1261.30 1261.30</text>
<text x="5.6" y="352.2" font-size="8.1" stroke="#000" stroke-width=".25" fill="#1a1a1a" textLength="88.2" lengthAdjust="spacingAndGlyphs">MACD(12,26,9) 4.418 2.566</text>
</svg>
</body></html>
